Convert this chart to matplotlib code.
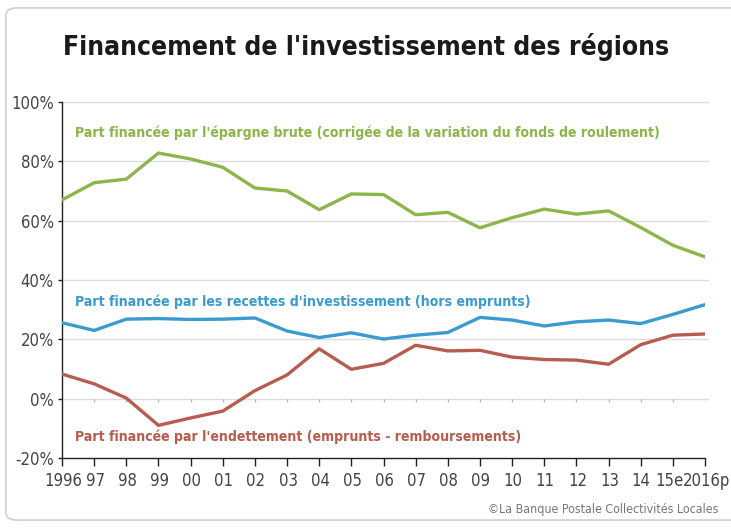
import matplotlib
matplotlib.use("Agg")
import matplotlib.pyplot as plt
from matplotlib import font_manager
from matplotlib.patches import FancyBboxPatch
from matplotlib.transforms import ScaledTranslation

years = ["1996", "97", "98", "99", "00", "01", "02", "03", "04", "05", "06",
         "07", "08", "09", "10", "11", "12", "13", "14", "15e", "2016p"]
epargne = [67, 72.8, 74, 82.8, 80.8, 78, 71, 70, 63.7, 69, 68.8,
           62, 62.8, 57.6, 61, 63.9, 62.2, 63.3, 57.7, 51.7, 47.8]
recettes = [25.6, 23, 26.8, 27, 26.7, 26.8, 27.2, 22.8, 20.6, 22.2, 20.1,
            21.4, 22.3, 27.4, 26.5, 24.5, 25.9, 26.5, 25.3, 28.4, 31.7]
endettement = [8.3, 5, 0.2, -9, -6.5, -4.2, 2.7, 8, 16.8, 9.9, 11.9,
               18, 16.1, 16.3, 14, 13.2, 13, 11.6, 18.2, 21.4, 21.8]
yticks = [-20, 0, 20, 40, 60, 80, 100]
title = "Financement de l'investissement des régions"
lab_g = "Part financée par l'épargne brute (corrigée de la variation du fonds de roulement)"
lab_b = "Part financée par les recettes d'investissement (hors emprunts)"
lab_r = "Part financée par l'endettement (emprunts - remboursements)"
source = "©La Banque Postale Collectivités Locales"

names = {f.name for f in font_manager.fontManager.ttflist}
cond = [f for f in font_manager.fontManager.ttflist
        if f.name == "DejaVu Sans" and "ondensed" in str(f.stretch)]
if "Liberation Sans Narrow" in names:
    FAM, STRETCH = "Liberation Sans Narrow", "normal"
elif cond:
    FAM, STRETCH = "DejaVu Sans", "condensed"
else:
    FAM, STRETCH = "Liberation Sans", "normal"

GREEN = "#8cb54b"
BLUE = "#3b9bcf"
RED = "#b55d4e"
TXT = "#444444"

fig = plt.figure(figsize=(7.31, 5.28), dpi=100)
fig.patch.set_facecolor("white")
box = FancyBboxPatch((0.008, 0.015), 1.05, 0.97,
                     boxstyle="round,pad=0,rounding_size=0.015",
                     transform=fig.transFigure, facecolor="none",
                     edgecolor="#cfcfcf", linewidth=1.2)
fig.patches.append(box)

ax = fig.add_axes([62 / 731, 70 / 528, 643 / 731, 356 / 528])
x = list(range(len(years)))
ax.set_xlim(0, len(years) - 1)
ax.set_ylim(-20, 100)

for t in yticks[1:]:
    ax.axhline(t, color="#dddddd", lw=1, zorder=0, xmax=1.004, clip_on=False)

ax.vlines(x[1:], -1.0, 0, color="#bbbbbb", lw=1, zorder=1)

ax.plot(x, epargne, color=GREEN, lw=2.4, solid_joinstyle="round", zorder=3)
ax.plot(x, recettes, color=BLUE, lw=2.4, solid_joinstyle="round", zorder=3)
ax.plot(x, endettement, color=RED, lw=2.4, solid_joinstyle="round", zorder=3)

tkw = dict(family=FAM, stretch=STRETCH, fontsize=10.1, ha="left", va="center",
           fontweight="bold")
ax.text(0.4, 89.5, lab_g, color=GREEN, **tkw)
ax.text(0.4, 32.6, lab_b, color=BLUE, **tkw)
ax.text(0.4, -13, lab_r, color=RED, **tkw)

ax.set_yticks(yticks)
ax.set_yticklabels([f"{t}%" for t in yticks], family=FAM, stretch=STRETCH,
                   fontsize=12, color=TXT)
ax.set_xticks(x)
ax.set_xticklabels(years, family=FAM, stretch=STRETCH, fontsize=12, color=TXT)
ax.tick_params(axis="x", length=6, width=1, color="#222222", pad=4)
ax.tick_params(axis="y", length=3, width=1, color="#222222", pad=3)
labels = ax.get_xticklabels()
shifts = {"14": 0, "15e": -3, "2016p": 2}
for lab in labels:
    s = shifts.get(lab.get_text(), 1)
    lab.set_transform(lab.get_transform() + ScaledTranslation(s / 100, 0, fig.dpi_scale_trans))
for s in ["top", "right"]:
    ax.spines[s].set_visible(False)
ax.spines["left"].set_color("#222222")
ax.spines["bottom"].set_color("#222222")
ax.spines["left"].set_linewidth(1)
ax.spines["bottom"].set_linewidth(1)

fig.text(366 / 731, 1 - 47 / 528, title, family=FAM, stretch=STRETCH,
         fontsize=19, fontweight="bold", color="#1a1a1a", ha="center", va="center")
fig.text(718 / 731, 1 - 509 / 528, source, family=FAM, stretch=STRETCH,
         fontsize=8.9, color="#777777", ha="right", va="center")

fig.savefig("out.png", dpi=100, facecolor="white")
